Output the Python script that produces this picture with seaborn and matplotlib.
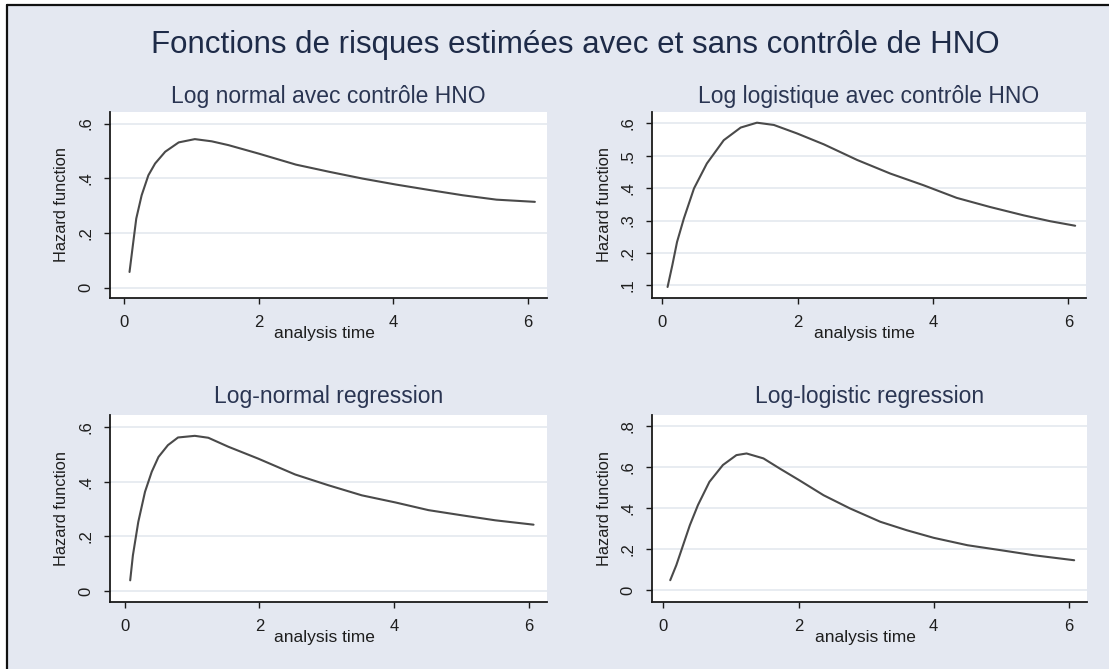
import matplotlib
matplotlib.use("Agg")
import matplotlib.pyplot as plt
import pandas as pd
import seaborn as sns
from matplotlib.patches import Rectangle
from matplotlib.lines import Line2D

# ---------------- data ----------------
main_title = "Fonctions de risques estimées avec et sans contrôle de HNO"
panel_titles = [
    "Log normal avec contrôle HNO",
    "Log logistique avec contrôle HNO",
    "Log-normal regression",
    "Log-logistic regression",
]
x_label = "analysis time"
y_label = "Hazard function"

x_ticks = [0, 2, 4, 6]
x_ticklabels = ["0", "2", "4", "6"]

# Panel 1: log normal with HNO control
t_lognorm_hno = [0.08, 0.13, 0.18, 0.26, 0.36, 0.46, 0.61, 0.81, 1.05, 1.30, 1.55,
                 2.00, 2.55, 3.04, 3.54, 4.04, 4.54, 5.03, 5.53, 6.10]
h_lognorm_hno = [0.058, 0.156, 0.253, 0.338, 0.411, 0.454, 0.497, 0.531, 0.543, 0.535, 0.521,
                 0.490, 0.450, 0.424, 0.399, 0.377, 0.357, 0.338, 0.322, 0.314]
yt_lognorm_hno = [0, 0.2, 0.4, 0.6]
yl_lognorm_hno = ["0", ".2", ".4", ".6"]

# Panel 2: log logistic with HNO control
t_loglog_hno = [0.08, 0.15, 0.22, 0.32, 0.47, 0.66, 0.91, 1.16, 1.40, 1.65, 1.99,
                2.39, 2.88, 3.37, 3.86, 4.35, 4.84, 5.34, 5.73, 6.10]
h_loglog_hno = [0.095, 0.162, 0.234, 0.306, 0.399, 0.476, 0.548, 0.587, 0.602, 0.595, 0.569,
                0.535, 0.487, 0.445, 0.409, 0.370, 0.342, 0.316, 0.298, 0.284]
yt_loglog_hno = [0.1, 0.2, 0.3, 0.4, 0.5, 0.6]
yl_loglog_hno = [".1", ".2", ".3", ".4", ".5", ".6"]

# Panel 3: log-normal regression
t_lognorm_reg = [0.08, 0.12, 0.20, 0.30, 0.40, 0.50, 0.64, 0.79, 1.04, 1.24, 1.54,
                 1.98, 2.53, 3.02, 3.52, 4.02, 4.51, 5.01, 5.50, 6.07]
h_lognorm_reg = [0.040, 0.131, 0.253, 0.363, 0.436, 0.490, 0.533, 0.561, 0.567, 0.560, 0.527,
                 0.484, 0.426, 0.387, 0.350, 0.324, 0.296, 0.277, 0.259, 0.243]
yt_lognorm_reg = [0, 0.2, 0.4, 0.6]
yl_lognorm_reg = ["0", ".2", ".4", ".6"]

# Panel 4: log-logistic regression
t_loglog_reg = [0.10, 0.19, 0.29, 0.39, 0.51, 0.68, 0.88, 1.08, 1.23, 1.48, 1.72,
                2.01, 2.37, 2.76, 3.21, 3.60, 4.00, 4.50, 4.99, 5.49, 6.08]
h_loglog_reg = [0.049, 0.122, 0.219, 0.316, 0.414, 0.527, 0.609, 0.657, 0.665, 0.641, 0.592,
                0.535, 0.462, 0.398, 0.333, 0.292, 0.255, 0.219, 0.195, 0.170, 0.146]
yt_loglog_reg = [0, 0.2, 0.4, 0.6, 0.8]
yl_loglog_reg = ["0", ".2", ".4", ".6", ".8"]

# ---------------- styling ----------------
sns.set_theme(style="ticks")
plt.rcParams["font.family"] = ["Liberation Sans", "DejaVu Sans"]

BG = "#E4E8F1"
TITLE_C = "#1E2B48"
TEXT_C = "#1E1E1E"
LINE_C = "#4A4A4A"
GRID_C = "#E6EAF0"

W, H = 1109, 669
fig = plt.figure(figsize=(W / 100, H / 100), dpi=100)
fig.patch.set_facecolor("white")

# outer background + frame (top and left black border)
fig.add_artist(Rectangle((7 / W, 0), 1, (H - 5) / H, transform=fig.transFigure,
                         facecolor=BG, edgecolor="none", zorder=0))
fig.add_artist(Line2D([7 / W, 1], [(H - 5) / H, (H - 5) / H], transform=fig.transFigure,
                      color="#111111", lw=1.6, zorder=1))
fig.add_artist(Line2D([7 / W, 7 / W], [0, (H - 5) / H], transform=fig.transFigure,
                      color="#111111", lw=1.6, zorder=1))

fig.text(575 / W, 1 - 45 / H, main_title, ha="center", va="center",
         fontsize=22.5, color=TITLE_C)

def px_axes(left, top, right, bottom):
    return [left / W, 1 - bottom / H, (right - left) / W, (bottom - top) / H]

panels = [
    dict(rect=px_axes(110, 112, 547, 298), t=t_lognorm_hno, h=h_lognorm_hno,
         yt=yt_lognorm_hno, yl=yl_lognorm_hno, xlim=(-0.21, 6.28), ylim=(-0.037, 0.642),
         title_off=15.5),
    dict(rect=px_axes(652, 112, 1086, 298), t=t_loglog_hno, h=h_loglog_hno,
         yt=yt_loglog_hno, yl=yl_loglog_hno, xlim=(-0.15, 6.26), ylim=(0.061, 0.635),
         title_off=15.5),
    dict(rect=px_axes(110, 415, 547, 602), t=t_lognorm_reg, h=h_lognorm_reg,
         yt=yt_lognorm_reg, yl=yl_lognorm_reg, xlim=(-0.22, 6.27), ylim=(-0.039, 0.643),
         title_off=18),
    dict(rect=px_axes(652, 415, 1087, 602), t=t_loglog_reg, h=h_loglog_reg,
         yt=yt_loglog_reg, yl=yl_loglog_reg, xlim=(-0.17, 6.27), ylim=(-0.057, 0.852),
         title_off=18),
]

for p, ttl in zip(panels, panel_titles):
    ax = fig.add_axes(p["rect"])
    ax.set_facecolor("white")
    df = pd.DataFrame({"time": p["t"], "hazard": p["h"]})
    sns.lineplot(data=df, x="time", y="hazard", ax=ax, color=LINE_C, lw=1.5)
    ax.set_xlim(*p["xlim"])
    ax.set_ylim(*p["ylim"])
    ax.set_xticks(x_ticks)
    ax.set_xticklabels(x_ticklabels)
    ax.set_yticks(p["yt"])
    ax.set_yticklabels(p["yl"], rotation=90, va="center")
    ax.yaxis.grid(True, color=GRID_C, lw=1.3)
    ax.xaxis.grid(False)
    ax.set_axisbelow(True)
    for s in ("top", "right"):
        ax.spines[s].set_visible(False)
    for s in ("left", "bottom"):
        ax.spines[s].set_color("#1a1a1a")
        ax.spines[s].set_linewidth(1.3)
    ax.tick_params(axis="both", direction="out", length=4.5, width=1.0,
                   color="#1a1a1a", labelcolor=TEXT_C, labelsize=12, pad=7.5,
                   bottom=True, left=True)
    ax.set_xlabel(x_label, fontsize=12.5, color=TEXT_C)
    ax.xaxis.set_label_coords(0.49, -28 / 186)
    ax.set_ylabel(y_label, fontsize=11.8, color=TEXT_C)
    ax.yaxis.set_label_coords(-48 / 437, 0.5)
    ax.yaxis.label.set_va("center")
    ax.text(0.5, 1 + p["title_off"] / 186, ttl, transform=ax.transAxes,
            ha="center", va="center", fontsize=16.5, color="#2A3552")

fig.savefig("out.png", dpi=100, facecolor=fig.get_facecolor())
